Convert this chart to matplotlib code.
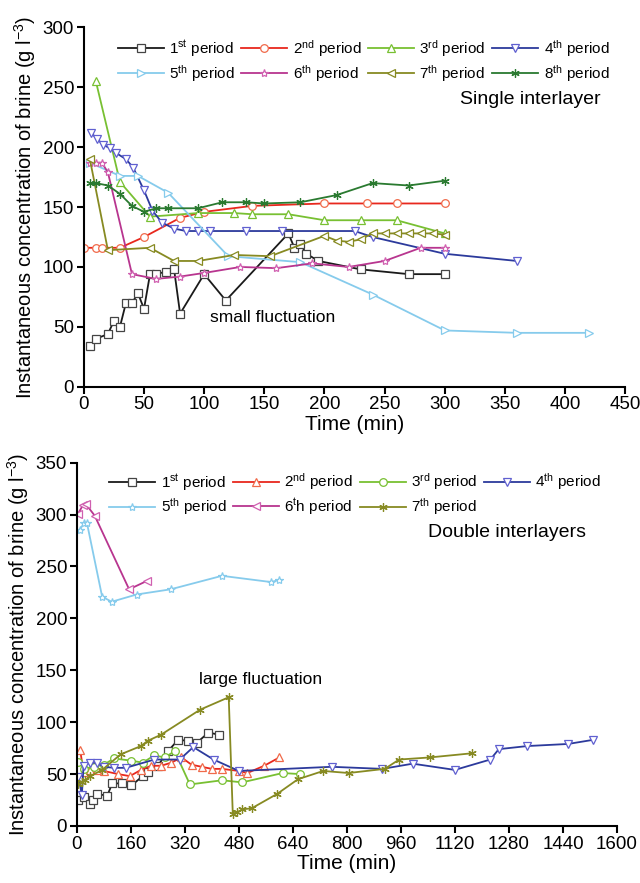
import numpy as np
import matplotlib
matplotlib.use("Agg")
import matplotlib.pyplot as plt

plt.rcParams['font.family'] = ['Liberation Sans', 'DejaVu Sans']
plt.rcParams['mathtext.default'] = 'regular'

# single interlayer
S1_X=[5,10,20,25,30,35,40,45,50,55,60,68,75,80,100,118,170,175,180,185,195,230,270,300]
S1_Y=[34,40,44,55,50,70,70,78,65,94,94,96,98,61,94,72,128,116,119,111,105,98,94,94]
S2_X=[0,10,15,30,50,80,100,140,200,235,260,300]
S2_Y=[116,116,116,116,125,141,146,151,153,153,153,153]
S3_X=[10,30,55,95,125,140,170,200,230,260,300]
S3_Y=[255,171,142,145,145,144,144,139,139,139,128]
S4_X=[6,11,16,22,27,35,41,50,57,65,75,85,95,105,135,165,225,240,300,360]
S4_Y=[212,207,202,199,195,190,183,164,147,137,132,130,130,130,130,130,130,125,111,105]
S5_X=[5,30,45,70,120,180,240,300,360,420]
S5_Y=[187,176,176,162,109,104,77,47,45,45]
S6_X=[5,10,15,20,40,60,80,100,130,160,190,220,250,280,300]
S6_Y=[187,187,187,179,94,90,92,95,100,99,103,100,105,116,116]
S7_X=[5,20,55,75,95,125,155,200,210,220,230,240,250,260,270,280,290,300]
S7_Y=[190,114,116,105,105,110,109,126,122,121,123,128,128,128,128,128,128,127]
S8_X=[5,10,20,30,40,50,60,70,95,115,135,150,180,210,240,270,300]
S8_Y=[170,170,168,161,151,146,149,149,149,154,154,153,154,160,170,168,172]

# double interlayers
D1_X=[5,20,38,48,60,90,105,135,162,195,210,240,270,300,330,355,390,420]
D1_Y=[25,28,21,25,31,29,41,41,39,48,52,58,72,83,82,80,90,88]
D2_X=[10,20,40,60,80,122,157,190,220,250,280,310,340,370,400,430,480,505,555,600]
D2_Y=[73,52,54,54,53,50,48,54,58,58,61,66,59,57,55,55,53,51,58,66]
D3_X=[5,20,50,80,110,160,195,230,260,290,335,430,490,610,660]
D3_Y=[62,55,57,59,65,63,61,68,66,72,40,44,42,51,50]
D4_X=[5,15,20,40,60,80,110,145,230,305,345,405,480,755,905,995,1120,1225,1250,1335,1455,1530]
D4_Y=[47,30,58,61,61,57,56,56,64,64,76,64,53,57,55,60,54,64,74,77,79,83]
D5_X=[8,22,30,75,103,177,278,430,575,600]
D5_Y=[285,292,292,221,216,223,228,241,235,237]
D6_X=[4,18,27,53,155,207]
D6_Y=[301,309,310,299,228,236]
D7_X=[5,15,25,40,75,130,190,210,250,365,450,462,474,490,518,594,655,730,805,912,955,1045,1170]
D7_Y=[40,42,44,48,54,69,77,82,88,112,124,12,13,16,17,31,45,53,51,55,64,66,70]

TOP_LABELS=['1$^{st}$ period','2$^{nd}$ period','3$^{rd}$ period','4$^{th}$ period',
            '5$^{th}$ period','6$^{th}$ period','7$^{th}$ period','8$^{th}$ period']
BOT_LABELS=['1$^{st}$ period','2$^{nd}$ period','3$^{rd}$ period','4$^{th}$ period',
            '5$^{th}$ period','6$^{t}$h period','7$^{th}$ period']

BLACK='#1a1a1a'
RED='#e8281e'
LGREEN='#78c032'
BLUE='#2c3a9c'
LBLUE='#86cbec'
MAGENTA='#b8358f'
OLIVE='#878a22'
DGREEN='#2a7a30'

def style_ax(ax):
    for s in ['top','right']:
        ax.spines[s].set_visible(False)
    for s in ['left','bottom']:
        ax.spines[s].set_linewidth(1.5)
    ax.tick_params(direction='out',length=5,width=1.5,labelsize=13.5,pad=2)

def line(ax,x,y,c,m,lab,mec=None,ms=5.5):
    return ax.plot(x,y,color=c,lw=1.3,marker=m,ms=ms,mfc='white',mec=mec or c,mew=0.9,label=lab)[0]

def row_legend(ax,hs,anchor):
    #legend fills by column, so reorder to get rows
    order=[0,4,1,5,2,6,3,7] if len(hs)==8 else [0,4,1,5,2,6,3]
    ax.legend([hs[i] for i in order],[hs[i].get_label() for i in order],ncol=4,loc='upper right',
              bbox_to_anchor=anchor,frameon=False,fontsize=11,handlelength=3.0,
              columnspacing=0.45,handletextpad=0.35,labelspacing=0.25,numpoints=1,borderpad=0.2)

fig=plt.figure(figsize=(6.4,8.83),dpi=100)
ax1=fig.add_axes([0.131,0.562,0.846,0.407])
ax2=fig.add_axes([0.120,0.0646,0.844,0.4114])

#top plot
hs=[]
hs.append(line(ax1,S1_X,S1_Y,BLACK,'s',TOP_LABELS[0],'#444444'))
hs.append(line(ax1,S2_X,S2_Y,RED,'o',TOP_LABELS[1],'#f06a4a'))
hs.append(line(ax1,S3_X,S3_Y,LGREEN,'^',TOP_LABELS[2]))
hs.append(line(ax1,S4_X,S4_Y,BLUE,'v',TOP_LABELS[3],'#6060d0'))
hs.append(line(ax1,S5_X,S5_Y,LBLUE,'>',TOP_LABELS[4]))
hs.append(line(ax1,S6_X,S6_Y,MAGENTA,'*',TOP_LABELS[5],'#d060b0',6))
hs.append(line(ax1,S7_X,S7_Y,OLIVE,'<',TOP_LABELS[6]))
hs.append(line(ax1,S8_X,S8_Y,DGREEN,(6,2,0),TOP_LABELS[7],None,6))
ax1.set_xlim(0,450)
ax1.set_ylim(0,300)
ax1.set_xticks(np.arange(0,451,50))
ax1.set_yticks(np.arange(0,301,50))
style_ax(ax1)
ax1.set_xlabel('Time (min)',fontsize=15,labelpad=1)
ax1.set_ylabel('Instantaneous concentration of brine (g l$^{-3}$)',fontsize=14.5,labelpad=3)
row_legend(ax1,hs,(0.99,1.0))
ax1.text(313,236,'Single interlayer',fontsize=14)
ax1.text(105,54,'small fluctuation',fontsize=12.5)

#bottom plot
hs=[]
hs.append(line(ax2,D1_X,D1_Y,BLACK,'s',BOT_LABELS[0],'#444444'))
hs.append(line(ax2,D2_X,D2_Y,RED,'^',BOT_LABELS[1],'#f06a4a'))
hs.append(line(ax2,D3_X,D3_Y,LGREEN,'o',BOT_LABELS[2]))
hs.append(line(ax2,D4_X,D4_Y,BLUE,'v',BOT_LABELS[3],'#6060d0'))
hs.append(line(ax2,D5_X,D5_Y,LBLUE,'*',BOT_LABELS[4],None,6))
hs.append(line(ax2,D6_X,D6_Y,MAGENTA,'<',BOT_LABELS[5],'#d060b0'))
hs.append(line(ax2,D7_X,D7_Y,OLIVE,(6,2,0),BOT_LABELS[6],None,6))
ax2.set_xlim(0,1600)
ax2.set_ylim(0,350)
ax2.set_xticks(np.arange(0,1601,160))
ax2.set_yticks(np.arange(0,351,50))
style_ax(ax2)
ax2.set_xlabel('Time (min)',fontsize=15,labelpad=1)
ax2.set_ylabel('Instantaneous concentration of brine (g l$^{-3}$)',fontsize=14.5,labelpad=3)
row_legend(ax2,hs,(0.99,1.005))
ax2.text(1040,278,'Double interlayers',fontsize=14)
ax2.text(361,137,'large fluctuation',fontsize=12.5)

fig.savefig('out.png',dpi=100)
